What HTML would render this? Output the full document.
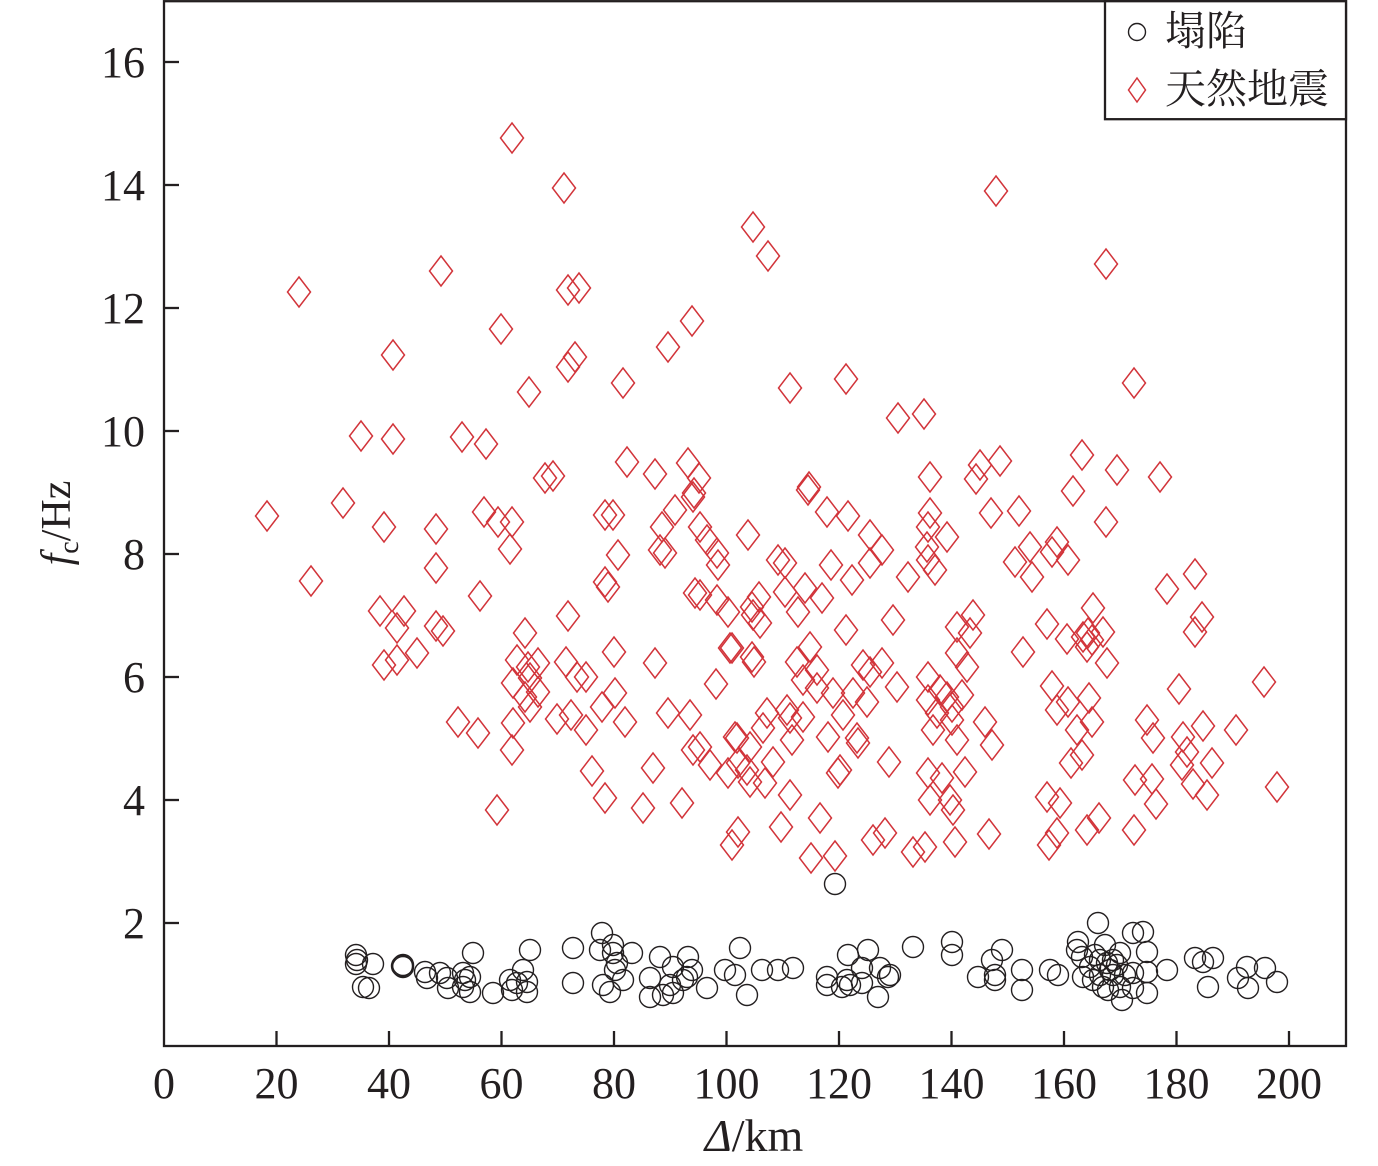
<!DOCTYPE html>
<html>
<head>
<meta charset="utf-8">
<style>
  html, body { margin: 0; padding: 0; background: #ffffff; }
  svg { display: block; }
  .tick { font-family: "Liberation Serif", "Noto Serif CJK SC", serif; font-size: 44px; fill: #231f20; }
  .leg { font-family: "Liberation Serif", "Noto Serif CJK SC", serif; font-size: 41px; fill: #231f20; }
</style>
</head>
<body>
<svg width="1378" height="1166" viewBox="0 0 1378 1166" xmlns="http://www.w3.org/2000/svg">
<defs>
  <path id="dm" d="M0,-15 L11.5,0 L0,15 L-11.5,0 Z" fill="none" stroke="#d2343a" stroke-width="1.5"/>
  <circle id="ci" cx="0" cy="0" r="10.5" fill="none" stroke="#231f20" stroke-width="1.4"/>
</defs>
<rect x="0" y="0" width="1378" height="1166" fill="#ffffff"/>

<!-- diamonds -->
<g>
<use href="#dm" x="512" y="138"/><use href="#dm" x="564" y="188"/><use href="#dm" x="441" y="271"/><use href="#dm" x="299" y="292"/><use href="#dm" x="568" y="290"/><use href="#dm" x="579" y="288"/><use href="#dm" x="501" y="329"/><use href="#dm" x="393" y="355"/><use href="#dm" x="575" y="357"/><use href="#dm" x="568" y="367"/><use href="#dm" x="529" y="392"/><use href="#dm" x="361" y="436"/><use href="#dm" x="393" y="439"/><use href="#dm" x="462" y="437"/><use href="#dm" x="486" y="444"/><use href="#dm" x="545" y="478"/><use href="#dm" x="553" y="476"/>
<use href="#dm" x="753" y="227"/><use href="#dm" x="768" y="256"/><use href="#dm" x="692" y="321"/><use href="#dm" x="668" y="347"/><use href="#dm" x="623" y="383"/><use href="#dm" x="790" y="388"/><use href="#dm" x="846" y="379"/><use href="#dm" x="898" y="418"/><use href="#dm" x="924" y="414"/><use href="#dm" x="627" y="462"/><use href="#dm" x="655" y="474"/><use href="#dm" x="688" y="463"/><use href="#dm" x="699" y="478"/><use href="#dm" x="694" y="493"/><use href="#dm" x="809" y="487"/><use href="#dm" x="930" y="477"/>
<use href="#dm" x="996" y="191"/><use href="#dm" x="1106" y="264"/><use href="#dm" x="1134" y="383"/><use href="#dm" x="980" y="465"/><use href="#dm" x="1000" y="461"/><use href="#dm" x="976" y="479"/><use href="#dm" x="1082" y="455"/><use href="#dm" x="1117" y="470"/><use href="#dm" x="1160" y="477"/><use href="#dm" x="1073" y="491"/>
<use href="#dm" x="267" y="516"/><use href="#dm" x="343" y="503"/><use href="#dm" x="384" y="527"/><use href="#dm" x="436" y="529"/><use href="#dm" x="484" y="512"/><use href="#dm" x="498" y="522"/><use href="#dm" x="512" y="522"/><use href="#dm" x="510" y="549"/><use href="#dm" x="311" y="581"/><use href="#dm" x="436" y="568"/><use href="#dm" x="480" y="596"/><use href="#dm" x="380" y="611"/><use href="#dm" x="404" y="611"/><use href="#dm" x="397" y="628"/><use href="#dm" x="436" y="626"/><use href="#dm" x="443" y="631"/><use href="#dm" x="384" y="665"/><use href="#dm" x="397" y="660"/><use href="#dm" x="417" y="653"/><use href="#dm" x="568" y="616"/><use href="#dm" x="525" y="633"/><use href="#dm" x="517" y="660"/><use href="#dm" x="538" y="663"/><use href="#dm" x="528" y="667"/><use href="#dm" x="513" y="683"/><use href="#dm" x="530" y="678"/><use href="#dm" x="538" y="692"/><use href="#dm" x="525" y="697"/><use href="#dm" x="530" y="707"/><use href="#dm" x="513" y="723"/><use href="#dm" x="512" y="750"/><use href="#dm" x="566" y="662"/><use href="#dm" x="577" y="677"/><use href="#dm" x="586" y="677"/><use href="#dm" x="557" y="719"/><use href="#dm" x="571" y="715"/><use href="#dm" x="586" y="730"/><use href="#dm" x="458" y="722"/><use href="#dm" x="478" y="733"/><use href="#dm" x="592" y="771"/><use href="#dm" x="497" y="810"/>
<use href="#dm" x="605" y="515"/><use href="#dm" x="613" y="515"/><use href="#dm" x="675" y="510"/><use href="#dm" x="662" y="527"/><use href="#dm" x="693" y="497"/><use href="#dm" x="618" y="555"/><use href="#dm" x="660" y="550"/><use href="#dm" x="665" y="553"/><use href="#dm" x="700" y="527"/><use href="#dm" x="707" y="540"/><use href="#dm" x="717" y="553"/><use href="#dm" x="718" y="565"/><use href="#dm" x="605" y="582"/><use href="#dm" x="608" y="587"/><use href="#dm" x="748" y="535"/><use href="#dm" x="808" y="490"/><use href="#dm" x="827" y="512"/><use href="#dm" x="848" y="516"/><use href="#dm" x="870" y="535"/><use href="#dm" x="882" y="550"/><use href="#dm" x="870" y="563"/><use href="#dm" x="778" y="560"/><use href="#dm" x="785" y="563"/><use href="#dm" x="831" y="565"/><use href="#dm" x="852" y="580"/><use href="#dm" x="930" y="513"/><use href="#dm" x="928" y="527"/><use href="#dm" x="947" y="537"/><use href="#dm" x="927" y="547"/><use href="#dm" x="928" y="560"/><use href="#dm" x="935" y="570"/><use href="#dm" x="908" y="577"/>
<use href="#dm" x="695" y="593"/><use href="#dm" x="700" y="595"/><use href="#dm" x="717" y="600"/><use href="#dm" x="728" y="612"/><use href="#dm" x="752" y="607"/><use href="#dm" x="759" y="597"/><use href="#dm" x="760" y="623"/><use href="#dm" x="753" y="615"/><use href="#dm" x="785" y="592"/><use href="#dm" x="805" y="588"/><use href="#dm" x="798" y="612"/><use href="#dm" x="822" y="598"/><use href="#dm" x="846" y="630"/><use href="#dm" x="893" y="620"/><use href="#dm" x="957" y="627"/><use href="#dm" x="614" y="652"/><use href="#dm" x="655" y="663"/><use href="#dm" x="730" y="648"/><use href="#dm" x="732" y="648"/><use href="#dm" x="752" y="657"/><use href="#dm" x="754" y="662"/><use href="#dm" x="716" y="684"/><use href="#dm" x="797" y="662"/><use href="#dm" x="810" y="647"/><use href="#dm" x="817" y="670"/><use href="#dm" x="803" y="680"/><use href="#dm" x="817" y="688"/><use href="#dm" x="833" y="693"/><use href="#dm" x="863" y="665"/><use href="#dm" x="870" y="672"/><use href="#dm" x="882" y="663"/><use href="#dm" x="897" y="687"/><use href="#dm" x="853" y="693"/><use href="#dm" x="867" y="702"/><use href="#dm" x="928" y="677"/><use href="#dm" x="928" y="700"/><use href="#dm" x="940" y="690"/><use href="#dm" x="947" y="697"/><use href="#dm" x="952" y="707"/><use href="#dm" x="937" y="713"/><use href="#dm" x="952" y="720"/><use href="#dm" x="933" y="730"/><use href="#dm" x="957" y="740"/><use href="#dm" x="957" y="653"/>
<use href="#dm" x="615" y="693"/><use href="#dm" x="602" y="707"/><use href="#dm" x="625" y="722"/><use href="#dm" x="668" y="713"/><use href="#dm" x="690" y="715"/><use href="#dm" x="737" y="738"/><use href="#dm" x="735" y="737"/><use href="#dm" x="767" y="713"/><use href="#dm" x="763" y="728"/><use href="#dm" x="787" y="710"/><use href="#dm" x="790" y="718"/><use href="#dm" x="803" y="717"/><use href="#dm" x="792" y="740"/><use href="#dm" x="843" y="715"/><use href="#dm" x="828" y="737"/><use href="#dm" x="857" y="738"/><use href="#dm" x="858" y="743"/><use href="#dm" x="693" y="750"/><use href="#dm" x="700" y="747"/><use href="#dm" x="710" y="765"/><use href="#dm" x="728" y="773"/><use href="#dm" x="738" y="763"/><use href="#dm" x="750" y="747"/><use href="#dm" x="747" y="770"/><use href="#dm" x="750" y="782"/><use href="#dm" x="765" y="783"/><use href="#dm" x="773" y="762"/><use href="#dm" x="653" y="768"/><use href="#dm" x="790" y="795"/><use href="#dm" x="840" y="770"/><use href="#dm" x="838" y="773"/><use href="#dm" x="889" y="762"/><use href="#dm" x="928" y="773"/><use href="#dm" x="942" y="778"/><use href="#dm" x="930" y="800"/><use href="#dm" x="950" y="800"/><use href="#dm" x="953" y="810"/><use href="#dm" x="605" y="798"/><use href="#dm" x="643" y="808"/><use href="#dm" x="682" y="803"/><use href="#dm" x="738" y="832"/><use href="#dm" x="732" y="845"/><use href="#dm" x="781" y="827"/><use href="#dm" x="820" y="818"/><use href="#dm" x="811" y="858"/><use href="#dm" x="835" y="856"/><use href="#dm" x="873" y="840"/><use href="#dm" x="885" y="833"/><use href="#dm" x="913" y="852"/><use href="#dm" x="925" y="847"/><use href="#dm" x="955" y="842"/>
<use href="#dm" x="991" y="513"/><use href="#dm" x="1019" y="511"/><use href="#dm" x="1106" y="522"/><use href="#dm" x="1015" y="562"/><use href="#dm" x="1030" y="547"/><use href="#dm" x="1052" y="552"/><use href="#dm" x="1057" y="542"/><use href="#dm" x="1068" y="560"/><use href="#dm" x="1032" y="577"/><use href="#dm" x="1167" y="589"/><use href="#dm" x="1195" y="574"/><use href="#dm" x="1093" y="608"/><use href="#dm" x="1047" y="624"/><use href="#dm" x="1067" y="639"/><use href="#dm" x="1083" y="637"/><use href="#dm" x="1088" y="633"/><use href="#dm" x="1092" y="640"/><use href="#dm" x="1103" y="632"/><use href="#dm" x="1087" y="647"/><use href="#dm" x="1107" y="663"/><use href="#dm" x="1202" y="617"/><use href="#dm" x="1195" y="632"/><use href="#dm" x="973" y="615"/><use href="#dm" x="970" y="633"/><use href="#dm" x="967" y="667"/><use href="#dm" x="962" y="695"/><use href="#dm" x="1023" y="652"/><use href="#dm" x="1052" y="686"/><use href="#dm" x="1068" y="702"/><use href="#dm" x="1057" y="710"/><use href="#dm" x="1089" y="698"/><use href="#dm" x="1092" y="722"/><use href="#dm" x="1077" y="730"/><use href="#dm" x="1082" y="755"/><use href="#dm" x="1071" y="763"/><use href="#dm" x="1179" y="689"/><use href="#dm" x="1264" y="682"/><use href="#dm" x="985" y="722"/><use href="#dm" x="992" y="745"/><use href="#dm" x="965" y="772"/><use href="#dm" x="1147" y="720"/><use href="#dm" x="1153" y="738"/><use href="#dm" x="1183" y="737"/><use href="#dm" x="1187" y="752"/><use href="#dm" x="1182" y="765"/><use href="#dm" x="1203" y="726"/><use href="#dm" x="1212" y="763"/><use href="#dm" x="1236" y="730"/><use href="#dm" x="1193" y="784"/><use href="#dm" x="1207" y="795"/><use href="#dm" x="1135" y="780"/><use href="#dm" x="1152" y="779"/><use href="#dm" x="1156" y="804"/><use href="#dm" x="1277" y="787"/><use href="#dm" x="1047" y="797"/><use href="#dm" x="1060" y="803"/><use href="#dm" x="1099" y="818"/><use href="#dm" x="1087" y="830"/><use href="#dm" x="1134" y="830"/><use href="#dm" x="1057" y="833"/><use href="#dm" x="1049" y="845"/><use href="#dm" x="989" y="834"/>
</g>

<!-- circles -->
<g>
<use href="#ci" x="356" y="955"/><use href="#ci" x="357" y="960"/><use href="#ci" x="356" y="964"/><use href="#ci" x="373" y="964"/><use href="#ci" x="363" y="987"/><use href="#ci" x="369" y="988"/><use href="#ci" x="402" y="966"/><use href="#ci" x="403" y="967"/><use href="#ci" x="403" y="965"/><use href="#ci" x="425" y="972"/><use href="#ci" x="427" y="978"/><use href="#ci" x="440" y="973"/><use href="#ci" x="447" y="978"/><use href="#ci" x="448" y="988"/><use href="#ci" x="463" y="973"/><use href="#ci" x="465" y="980"/><use href="#ci" x="463" y="987"/><use href="#ci" x="470" y="992"/><use href="#ci" x="473" y="953"/><use href="#ci" x="470" y="977"/><use href="#ci" x="493" y="993"/><use href="#ci" x="510" y="980"/><use href="#ci" x="512" y="990"/><use href="#ci" x="523" y="970"/><use href="#ci" x="527" y="982"/><use href="#ci" x="527" y="992"/><use href="#ci" x="530" y="950"/><use href="#ci" x="517" y="983"/><use href="#ci" x="573" y="948"/><use href="#ci" x="573" y="983"/><use href="#ci" x="602" y="933"/><use href="#ci" x="600" y="950"/><use href="#ci" x="613" y="945"/><use href="#ci" x="613" y="953"/><use href="#ci" x="632" y="953"/><use href="#ci" x="617" y="963"/><use href="#ci" x="615" y="970"/><use href="#ci" x="623" y="980"/><use href="#ci" x="603" y="985"/><use href="#ci" x="610" y="992"/><use href="#ci" x="660" y="957"/><use href="#ci" x="650" y="978"/><use href="#ci" x="650" y="997"/><use href="#ci" x="663" y="995"/><use href="#ci" x="673" y="967"/><use href="#ci" x="670" y="985"/><use href="#ci" x="673" y="993"/><use href="#ci" x="688" y="957"/><use href="#ci" x="692" y="970"/><use href="#ci" x="687" y="977"/><use href="#ci" x="683" y="980"/><use href="#ci" x="707" y="988"/><use href="#ci" x="725" y="970"/><use href="#ci" x="735" y="975"/><use href="#ci" x="740" y="948"/><use href="#ci" x="747" y="995"/><use href="#ci" x="762" y="970"/><use href="#ci" x="778" y="970"/><use href="#ci" x="793" y="968"/>
<use href="#ci" x="835" y="884"/><use href="#ci" x="827" y="977"/><use href="#ci" x="827" y="985"/><use href="#ci" x="842" y="987"/><use href="#ci" x="847" y="980"/><use href="#ci" x="850" y="985"/><use href="#ci" x="862" y="983"/><use href="#ci" x="848" y="955"/><use href="#ci" x="868" y="950"/><use href="#ci" x="862" y="968"/><use href="#ci" x="880" y="968"/><use href="#ci" x="890" y="975"/><use href="#ci" x="888" y="977"/><use href="#ci" x="878" y="997"/><use href="#ci" x="913" y="947"/><use href="#ci" x="952" y="942"/><use href="#ci" x="952" y="955"/><use href="#ci" x="978" y="977"/><use href="#ci" x="992" y="960"/><use href="#ci" x="1002" y="950"/><use href="#ci" x="995" y="975"/><use href="#ci" x="995" y="980"/><use href="#ci" x="1022" y="970"/><use href="#ci" x="1022" y="990"/><use href="#ci" x="1050" y="970"/><use href="#ci" x="1058" y="975"/><use href="#ci" x="1078" y="942"/><use href="#ci" x="1077" y="950"/><use href="#ci" x="1082" y="957"/><use href="#ci" x="1098" y="923"/><use href="#ci" x="1105" y="945"/><use href="#ci" x="1090" y="967"/><use href="#ci" x="1100" y="960"/><use href="#ci" x="1107" y="963"/><use href="#ci" x="1113" y="960"/><use href="#ci" x="1120" y="953"/><use href="#ci" x="1133" y="933"/><use href="#ci" x="1143" y="932"/><use href="#ci" x="1147" y="952"/><use href="#ci" x="1147" y="972"/><use href="#ci" x="1133" y="973"/><use href="#ci" x="1093" y="980"/><use href="#ci" x="1103" y="987"/><use href="#ci" x="1120" y="987"/><use href="#ci" x="1133" y="988"/><use href="#ci" x="1122" y="1000"/><use href="#ci" x="1147" y="993"/><use href="#ci" x="1167" y="970"/><use href="#ci" x="1083" y="977"/><use href="#ci" x="1113" y="975"/><use href="#ci" x="1110" y="970"/><use href="#ci" x="1117" y="965"/><use href="#ci" x="1125" y="975"/><use href="#ci" x="1100" y="975"/><use href="#ci" x="1108" y="990"/><use href="#ci" x="1095" y="955"/><use href="#ci" x="1195" y="958"/><use href="#ci" x="1203" y="962"/><use href="#ci" x="1213" y="958"/><use href="#ci" x="1208" y="987"/><use href="#ci" x="1238" y="978"/><use href="#ci" x="1247" y="967"/><use href="#ci" x="1248" y="988"/><use href="#ci" x="1265" y="968"/><use href="#ci" x="1277" y="982"/>
</g>

<!-- frame -->
<g stroke="#231f20" stroke-width="2.3" fill="none">
  <rect x="164" y="1.2" width="1182" height="1044.8"/>
  <line x1="276.5" y1="1046" x2="276.5" y2="1031"/>
  <line x1="389" y1="1046" x2="389" y2="1031"/>
  <line x1="501.5" y1="1046" x2="501.5" y2="1031"/>
  <line x1="614" y1="1046" x2="614" y2="1031"/>
  <line x1="726.5" y1="1046" x2="726.5" y2="1031"/>
  <line x1="839" y1="1046" x2="839" y2="1031"/>
  <line x1="951.5" y1="1046" x2="951.5" y2="1031"/>
  <line x1="1064" y1="1046" x2="1064" y2="1031"/>
  <line x1="1176.5" y1="1046" x2="1176.5" y2="1031"/>
  <line x1="1289" y1="1046" x2="1289" y2="1031"/>
  <line x1="164" y1="923" x2="179" y2="923"/>
  <line x1="164" y1="800" x2="179" y2="800"/>
  <line x1="164" y1="677" x2="179" y2="677"/>
  <line x1="164" y1="554" x2="179" y2="554"/>
  <line x1="164" y1="431" x2="179" y2="431"/>
  <line x1="164" y1="308" x2="179" y2="308"/>
  <line x1="164" y1="185" x2="179" y2="185"/>
  <line x1="164" y1="62" x2="179" y2="62"/>
</g>

<!-- y tick labels -->
<g class="tick" text-anchor="end">
  <text x="145" y="938">2</text>
  <text x="145" y="815">4</text>
  <text x="145" y="692">6</text>
  <text x="145" y="569">8</text>
  <text x="145" y="446">10</text>
  <text x="145" y="323">12</text>
  <text x="145" y="200">14</text>
  <text x="145" y="77">16</text>
</g>

<!-- x tick labels -->
<g class="tick" text-anchor="middle">
  <text x="164" y="1098">0</text>
  <text x="276.5" y="1098">20</text>
  <text x="389" y="1098">40</text>
  <text x="501.5" y="1098">60</text>
  <text x="614" y="1098">80</text>
  <text x="726.5" y="1098">100</text>
  <text x="839" y="1098">120</text>
  <text x="951.5" y="1098">140</text>
  <text x="1064" y="1098">160</text>
  <text x="1176.5" y="1098">180</text>
  <text x="1289" y="1098">200</text>
</g>

<!-- axis titles -->
<text x="754" y="1151" text-anchor="middle" class="tick" style="font-size:46px"><tspan font-style="italic">Δ</tspan>/km</text>
<text transform="translate(70,523) rotate(-90)" text-anchor="middle" class="tick" style="font-size:42px"><tspan font-style="italic">f</tspan><tspan font-size="28" dy="8">c</tspan><tspan dy="-8">/Hz</tspan></text>

<!-- legend -->
<rect x="1105" y="1.2" width="241" height="118" fill="#ffffff" stroke="#231f20" stroke-width="2.3"/>
<circle cx="1137" cy="32" r="8.5" fill="none" stroke="#231f20" stroke-width="1.4"/>
<path d="M1137,78 L1145.5,90 L1137,102 L1128.5,90 Z" fill="none" stroke="#d2343a" stroke-width="1.5"/>
<text x="1165" y="45" class="leg">塌陷</text>
<text x="1165" y="103" class="leg">天然地震</text>
</svg>
</body>
</html>
